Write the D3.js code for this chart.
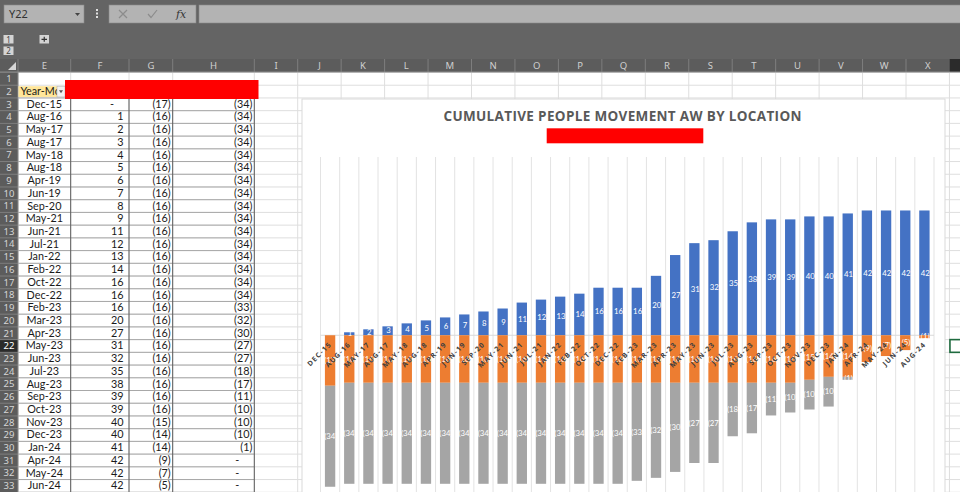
<!DOCTYPE html>
<html><head><meta charset="utf-8">
<script src="https://cdn.jsdelivr.net/npm/d3@7"></script>
<style>html,body{margin:0;padding:0;background:#646464;overflow:hidden}svg{display:block}</style>
</head><body><svg id="c" width="960" height="492"></svg>
<script>
// ---------------- DATA ----------------
const categories = ["Dec-15","Aug-16","May-17","Aug-17","May-18","Aug-18","Apr-19","Jun-19","Sep-20","May-21","Jun-21","Jul-21","Jan-22","Feb-22","Oct-22","Dec-22","Feb-23","Mar-23","Apr-23","May-23","Jun-23","Jul-23","Aug-23","Sep-23","Oct-23","Nov-23","Dec-23","Jan-24","Apr-24","May-24","Jun-24","Aug-24"];
const seriesF = [0,1,2,3,4,5,6,7,8,9,11,12,13,14,16,16,16,20,27,31,32,35,38,39,39,40,40,41,42,42,42,42];
const seriesG = [-17,-16,-16,-16,-16,-16,-16,-16,-16,-16,-16,-16,-16,-16,-16,-16,-16,-16,-16,-16,-16,-16,-16,-16,-16,-15,-14,-14,-9,-7,-5,-1];
const seriesH = [-34,-34,-34,-34,-34,-34,-34,-34,-34,-34,-34,-34,-34,-34,-34,-34,-33,-32,-30,-27,-27,-18,-17,-11,-10,-10,-10,-1,0,0,0,0];
const columnLetters = ["E","F","G","H","I","J","K","L","M","N","O","P","Q","R","S","T","U","V","W","X","Y"];
const yTicks = [-60,60];
const chartTitle = "CUMULATIVE PEOPLE MOVEMENT AW BY LOCATION";
const headerLabel = "Year-Month";
const nameBoxText = "Y22";

// ---------------- LAYOUT ----------------
const svg = d3.select("#c");
const W = 960, H = 492;
const uiFont = "'Noto Sans', 'DejaVu Sans', sans-serif";
const cellFont = "Lato, 'Open Sans', sans-serif";

const colEdges = [18, 70.7, 129, 172.7, 254.3, 297.7];
while (colEdges.length < columnLetters.length + 1) colEdges.push(colEdges[colEdges.length - 1] + 43.45);
const rowH = 12.72, row1Top = 72.5;
const rowTop = r => row1Top + (r - 1) * rowH;
const nRows = 34;

svg.append("rect").attr("width", W).attr("height", H).attr("fill", "#646464");

// Name box + formula bar
svg.append("rect").attr("x", 4).attr("y", 5).attr("width", 80).attr("height", 18).attr("fill", "#b3b3b3").attr("stroke", "#8a8a8a").attr("stroke-width", 0.6);
svg.append("text").attr("x", 9).attr("y", 18).attr("font-family", uiFont).attr("font-size", 11).attr("fill", "#333").text(nameBoxText);
svg.append("path").attr("d", "M75,13 L80,13 L77.5,16 Z").attr("fill", "#444");
[10, 13.5, 17].forEach(y => svg.append("rect").attr("x", 96).attr("y", y - 1).attr("width", 2).attr("height", 2).attr("fill", "#e0e0e0"));
svg.append("rect").attr("x", 109).attr("y", 5).attr("width", 87).attr("height", 18).attr("fill", "#b3b3b3").attr("stroke", "#8a8a8a").attr("stroke-width", 0.6);
svg.append("path").attr("d", "M119,10 L127,18 M127,10 L119,18").attr("stroke", "#8c8c8c").attr("stroke-width", 1.2);
svg.append("path").attr("d", "M148,14 L151,17.5 L157,10").attr("stroke", "#8c8c8c").attr("stroke-width", 1.2).attr("fill", "none");
svg.append("text").attr("x", 176).attr("y", 18).attr("font-family", "'DejaVu Serif', serif").attr("font-style", "italic").attr("font-size", 11).attr("fill", "#333").text("fx");
svg.append("rect").attr("x", 199).attr("y", 5).attr("width", 770).attr("height", 18).attr("fill", "#b3b3b3").attr("stroke", "#8a8a8a").attr("stroke-width", 0.6);

// Outline buttons
[["1", 3.5, 35], ["2", 3.5, 46.5]].forEach(([t, x, y]) => {
  svg.append("rect").attr("x", x).attr("y", y).attr("width", 10).attr("height", 8.5).attr("fill", "#d4d4d4");
  svg.append("text").attr("x", x + 5).attr("y", y + 7.5).attr("text-anchor", "middle").attr("font-family", uiFont).attr("font-size", 8).attr("fill", "#444").text(t);
});
svg.append("rect").attr("x", 39.5).attr("y", 35).attr("width", 9.5).attr("height", 8.5).attr("fill", "#d4d4d4");
svg.append("path").attr("d", "M41.5,39.3 L47,39.3 M44.25,36.8 L44.25,41.8").attr("stroke", "#333").attr("stroke-width", 1.2);

// Cells area
svg.append("rect").attr("x", 18).attr("y", 72).attr("width", W - 18).attr("height", H - 72).attr("fill", "#ffffff");
const gridG = svg.append("g").attr("stroke", "#dedede").attr("stroke-width", 1);
colEdges.forEach(x => gridG.append("line").attr("x1", x).attr("x2", x).attr("y1", 72).attr("y2", H));
for (let r = 1; r <= nRows + 1; r++) gridG.append("line").attr("x1", 18).attr("x2", W).attr("y1", rowTop(r)).attr("y2", rowTop(r));

// Column headers
svg.append("rect").attr("x", 0).attr("y", 59).attr("width", W).attr("height", 13).attr("fill", "#5c5c5c");
columnLetters.forEach((c, i) => {
  const x0 = colEdges[i], x1 = colEdges[i + 1];
  svg.append("line").attr("x1", x0).attr("x2", x0).attr("y1", 59).attr("y2", 72).attr("stroke", "#7e7e7e");
  if (x1 > W) { // partly visible selected column: header block only
    svg.append("rect").attr("x", x0).attr("y", 59).attr("width", x1 - x0).attr("height", 13).attr("fill", "#2b2b2b");
    return;
  }
  svg.append("text").attr("x", (x0 + x1) / 2).attr("y", 69).attr("text-anchor", "middle").attr("font-family", uiFont).attr("font-size", 9.5).attr("fill", "#cfcfcf").text(c);
});
svg.append("line").attr("x1", 0).attr("x2", W).attr("y1", 72).attr("y2", 72).attr("stroke", "#8a8a8a");
svg.append("path").attr("d", "M16,62 L16,70 L8,70 Z").attr("fill", "#d6d6d6");

// Row headers
svg.append("rect").attr("x", 0).attr("y", 72).attr("width", 18).attr("height", H - 72).attr("fill", "#5c5c5c");
for (let r = 1; r <= nRows; r++) {
  const y0 = rowTop(r);
  if (y0 > H - 4) break;
  if (r === 22) svg.append("rect").attr("x", 0).attr("y", y0).attr("width", 18).attr("height", rowH).attr("fill", "#2b2b2b");
  svg.append("line").attr("x1", 0).attr("x2", 18).attr("y1", y0).attr("y2", y0).attr("stroke", "#7e7e7e");
  svg.append("text").attr("x", 9).attr("y", y0 + 9.6).attr("text-anchor", "middle").attr("font-family", uiFont).attr("font-size", 9.5)
    .attr("fill", r === 22 ? "#ffffff" : "#d6d6d6").text(r);
}
svg.append("line").attr("x1", 18).attr("x2", 18).attr("y1", 72).attr("y2", H).attr("stroke", "#8a8a8a");

// Data table E3:H..
const fmtAcct = v => v === 0 ? "-" : (v < 0 ? "(" + Math.abs(v) + ")" : String(v));
const tbl = svg.append("g").attr("font-family", cellFont).attr("font-size", 10.8).attr("fill", "#1a1a1a");
categories.forEach((c, i) => {
  const r = i + 3, y0 = rowTop(r), yb = y0 + 9.8;
  if (y0 > H - 4) return;
  tbl.append("text").attr("x", (colEdges[0] + colEdges[1]) / 2).attr("y", yb).attr("text-anchor", "middle").text(c);
  [[seriesF[i], 1], [seriesG[i], 2], [seriesH[i], 3]].forEach(([v, ci]) => {
    const right = colEdges[ci + 1];
    if (v === 0) tbl.append("text").attr("x", right - 17).attr("y", yb).attr("text-anchor", "middle").text("-");
    else tbl.append("text").attr("x", v < 0 ? right - 2 : right - 5.5).attr("y", yb).attr("text-anchor", "end").text(fmtAcct(v));
  });
});
const bord = svg.append("g");
for (let r = 3; r <= categories.length + 3; r++)
  bord.append("line").attr("x1", 18).attr("x2", colEdges[4]).attr("y1", rowTop(r)).attr("y2", rowTop(r)).attr("stroke", "#a8a8a8");
[colEdges[1], colEdges[2], colEdges[3], colEdges[4]].forEach(x =>
  bord.append("line").attr("x1", x).attr("x2", x).attr("y1", rowTop(3)).attr("y2", H).attr("stroke", "#5a5a5a"));

// Header cell E2
svg.append("rect").attr("x", 18.5).attr("y", rowTop(2) + 1).attr("width", 38.5).attr("height", rowH - 2).attr("fill", "#ffe699");
svg.append("clipPath").attr("id", "e2clip").append("rect").attr("x", 18).attr("y", rowTop(2)).attr("width", 39).attr("height", rowH);
svg.append("text").attr("clip-path", "url(#e2clip)").attr("x", 20.5).attr("y", rowTop(2) + 9.8).attr("font-family", cellFont).attr("font-size", 10.8).attr("fill", "#1a1a1a").text(headerLabel);
svg.append("rect").attr("x", 57).attr("y", rowTop(2) + 1).attr("width", 8).attr("height", rowH - 2).attr("fill", "#f2f2f2").attr("stroke", "#aaa").attr("stroke-width", 0.5);
svg.append("path").attr("d", `M59,${rowTop(2) + 5} L63,${rowTop(2) + 5} L61,${rowTop(2) + 8} Z`).attr("fill", "#555");
svg.append("rect").attr("x", 65).attr("y", 80).attr("width", 193.5).attr("height", 19).attr("fill", "#ff0000");

// Selected cell Y22
svg.append("rect").attr("x", colEdges[20] + 0.5).attr("y", rowTop(22)).attr("width", 14).attr("height", rowH).attr("fill", "none").attr("stroke", "#1f6b3f").attr("stroke-width", 1.6);

// ---------------- CHART ----------------
const chart = svg.append("g");
chart.append("rect").attr("x", 302).attr("y", 99).attr("width", 643).attr("height", 420).attr("fill", "#ffffff").attr("stroke", "#d9d9d9");
chart.append("text").attr("x", 622.5).attr("y", 121).attr("text-anchor", "middle").attr("font-family", "'Open Sans', Lato, sans-serif")
  .attr("font-weight", "bold").attr("font-size", 13.5).attr("fill", "#595959").attr("textLength", 358).attr("lengthAdjust", "spacing").text(chartTitle);
chart.append("rect").attr("x", 546.7).attr("y", 128.3).attr("width", 156.6).attr("height", 15).attr("fill", "#ff0000");

const plotL = 320.5, plotR = 934, plotT = 157, plotB = 513.5;
const x = d3.scaleBand().domain(categories).range([plotL, plotR]).paddingInner(0.46).paddingOuter(0.23);
const y = d3.scaleLinear().domain(d3.extent(yTicks)).range([plotB, plotT]);
const step = x.step();

// vertical gridlines between categories
const gl = chart.append("g").attr("stroke", "#e3e3e3").attr("stroke-width", 1);
d3.range(categories.length + 1).forEach(i => {
  const gx = plotL + i * step;
  gl.append("line").attr("x1", gx).attr("x2", gx).attr("y1", plotT).attr("y2", plotB);
});
// zero axis line
chart.append("line").attr("x1", plotL).attr("x2", plotR).attr("y1", y(0)).attr("y2", y(0)).attr("stroke", "#d9d9d9");

const stacked = categories.map((c, i) => ({
  c,
  segs: [
    { v: seriesF[i], y0: 0, y1: seriesF[i], color: "#4472c4" },
    { v: seriesG[i], y0: 0, y1: seriesG[i], color: "#ed7d31" },
    { v: seriesH[i], y0: seriesG[i], y1: seriesG[i] + seriesH[i], color: "#a5a5a5" }
  ]
}));
const bars = chart.append("g");
stacked.forEach(d => d.segs.forEach(s => {
  if (s.v === 0) return;
  bars.append("rect").attr("x", x(d.c)).attr("width", x.bandwidth())
    .attr("y", y(Math.max(s.y0, s.y1))).attr("height", Math.abs(y(s.y0) - y(s.y1))).attr("fill", s.color);
}));
const lbl = chart.append("g").attr("font-family", "Lato, 'Open Sans', sans-serif").attr("font-size", 7.8).attr("fill", "#ffffff").attr("text-anchor", "middle");
stacked.forEach(d => d.segs.forEach(s => {
  if (s.v === 0) return;
  lbl.append("text").attr("x", x(d.c) + x.bandwidth() / 2 + 0.8).attr("y", y((s.y0 + s.y1) / 2) + 2.7).text(fmtAcct(s.v));
}));
// category axis labels (rotated)
const ax = chart.append("g").attr("font-family", "'Open Sans', 'Noto Sans', sans-serif").attr("font-size", 7).attr("font-weight", "bold")
  .attr("fill", "#404040").attr("letter-spacing", 1.2).attr("text-anchor", "end");
categories.forEach(c => {
  const cx = x(c) + x.bandwidth() / 2 + 2, cy = y(0) + 9.5;
  ax.append("text").attr("transform", `translate(${cx},${cy}) rotate(-45)`).text(c.toUpperCase());
});
</script>
</body></html>
